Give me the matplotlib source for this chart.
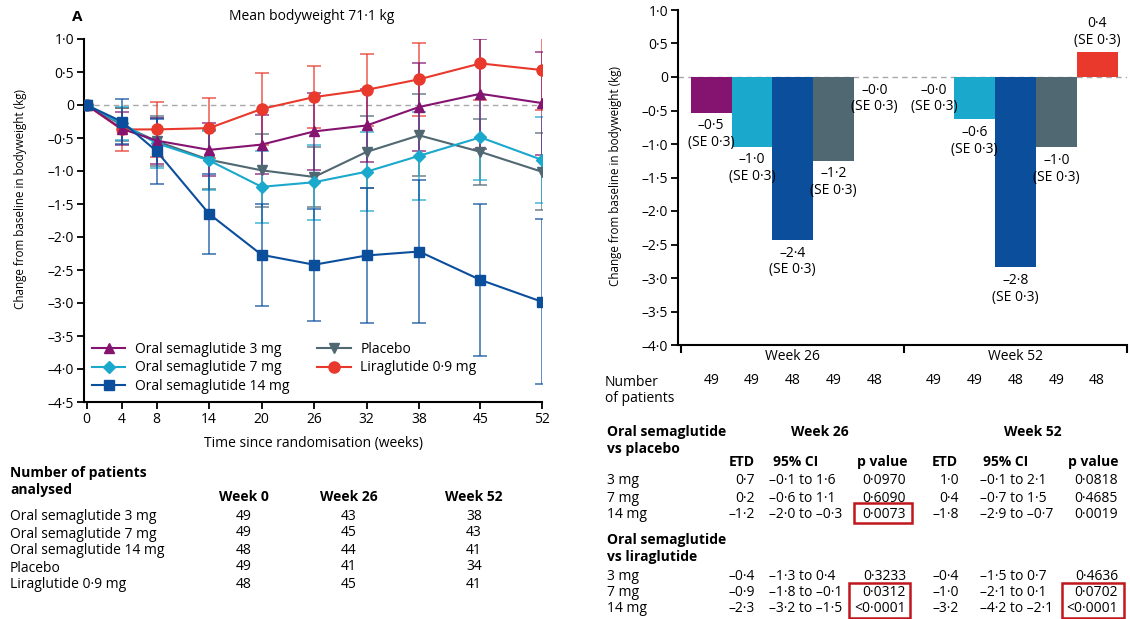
import matplotlib
matplotlib.use("Agg")
import matplotlib.pyplot as plt
from matplotlib.patches import Rectangle
from matplotlib.lines import Line2D

plt.rcParams['font.family'] = ['Open Sans', 'DejaVu Sans']

# ---------------- data ----------------
weeks = [0, 4, 8, 14, 20, 26, 32, 38, 45, 52]
week_labels = ["0", "4", "8", "14", "20", "26", "32", "38", "45", "52"]

series_names = ["Oral semaglutide 3 mg", "Oral semaglutide 7 mg",
                "Oral semaglutide 14 mg", "Placebo", "Liraglutide 0·9 mg"]

sema3 = [0, -0.36, -0.54, -0.68, -0.60, -0.40, -0.31, -0.03, 0.17, 0.03]
sema3_ci = [0, 0.25, 0.35, 0.40, 0.45, 0.58, 0.55, 0.67, 0.83, 0.78]
sema7 = [0, -0.28, -0.58, -0.84, -1.24, -1.17, -1.01, -0.77, -0.49, -0.83]
sema7_ci = [0, 0.25, 0.38, 0.45, 0.55, 0.57, 0.60, 0.67, 0.64, 0.65]
sema14 = [0, -0.25, -0.70, -1.65, -2.27, -2.42, -2.28, -2.22, -2.65, -2.98]
sema14_ci = [0, 0.34, 0.49, 0.60, 0.77, 0.85, 1.02, 1.08, 1.15, 1.25]
placebo = [0, -0.30, -0.55, -0.83, -0.99, -1.09, -0.71, -0.46, -0.71, -1.01]
placebo_ci = [0, 0.25, 0.38, 0.45, 0.55, 0.45, 0.55, 0.62, 0.50, 0.58]
lira = [0, -0.37, -0.37, -0.35, -0.06, 0.12, 0.23, 0.39, 0.63, 0.53]
lira_ci = [0, 0.33, 0.42, 0.46, 0.54, 0.47, 0.55, 0.55, 0.56, 0.60]

left_yticks = [1.0, 0.5, 0, -0.5, -1.0, -1.5, -2.0, -2.5, -3.0, -3.5, -4.0, -4.5]
left_yticklabels = ["1·0", "0·5", "0", "–0·5", "–1·0", "–1·5", "–2·0", "–2·5",
                    "–3·0", "–3·5", "–4·0", "–4·5"]

table_cols = ["Week 0", "Week 26", "Week 52"]
n_week0 = [49, 49, 48, 49, 48]
n_week26 = [43, 45, 44, 41, 45]
n_week52 = [38, 43, 41, 34, 41]

bar_groups = ["Week 26", "Week 52"]
bar_week26 = [-0.53, -1.04, -2.43, -1.25, 0.0]
bar_week52 = [0.0, -0.63, -2.84, -1.05, 0.38]
bar_lab26 = ["–0·5", "–1·0", "–2·4", "–1·2", "–0·0"]
bar_lab52 = ["–0·0", "–0·6", "–2·8", "–1·0", "0·4"]
bar_se = "(SE 0·3)"
bar_n26 = [49, 49, 48, 49, 48]
bar_n52 = [49, 49, 48, 49, 48]

right_yticks = [1.0, 0.5, 0, -0.5, -1.0, -1.5, -2.0, -2.5, -3.0, -3.5, -4.0]
right_yticklabels = ["1·0", "0·5", "0", "–0·5", "–1·0", "–1·5", "–2·0", "–2·5",
                     "–3·0", "–3·5", "–4·0"]

dose_rows = ["3 mg", "7 mg", "14 mg"]
pl_etd26 = ["0·7", "0·2", "–1·2"]
pl_ci26 = ["–0·1 to 1·6", "–0·6 to 1·1", "–2·0 to –0·3"]
pl_p26 = ["0·0970", "0·6090", "0·0073"]
pl_etd52 = ["1·0", "0·4", "–1·8"]
pl_ci52 = ["–0·1 to 2·1", "–0·7 to 1·5", "–2·9 to –0·7"]
pl_p52 = ["0·0818", "0·4685", "0·0019"]
li_etd26 = ["–0·4", "–0·9", "–2·3"]
li_ci26 = ["–1·3 to 0·4", "–1·8 to –0·1", "–3·2 to –1·5"]
li_p26 = ["0·3233", "0·0312", "<0·0001"]
li_etd52 = ["–0·4", "–1·0", "–3·2"]
li_ci52 = ["–1·5 to 0·7", "–2·1 to 0·1", "–4·2 to –2·1"]
li_p52 = ["0·4636", "0·0702", "<0·0001"]

# ---------------- style ----------------
colors = ["#851470", "#1aa8cc", "#0b4f9c", "#4f6872", "#e8392c"]
markers = ["^", "D", "s", "v", "o"]
msizes = [7.5, 6.5, 7.5, 7.5, 8]

W, H = 1130, 619
fig = plt.figure(figsize=(W / 100, H / 100), dpi=100)


def fx(x):
    return x / W


def fy(y):
    return 1 - y / H


def ftext(x, y, s, **kw):
    kw.setdefault("va", "center")
    return fig.text(fx(x), fy(y), s, **kw)


FS = 10
FY = 8.4

# ---------------- left line chart ----------------
axL = fig.add_axes([fx(84), fy(402), (541.7 - 84) / W, (402 - 39) / H])
axL.set_xlim(-0.3, 52)
axL.set_ylim(-4.5, 1.0)
axL.axhline(0, color="#a8a8a8", lw=1, ls=(0, (4, 3)), zorder=1)

vals = [sema3, sema7, sema14, placebo, lira]
cis = [sema3_ci, sema7_ci, sema14_ci, placebo_ci, lira_ci]
order = [4, 3, 1, 0, 2]
for i in order:
    axL.errorbar(weeks, vals[i], yerr=cis[i], fmt="none", ecolor=colors[i],
                 elinewidth=1.3, capsize=5, capthick=1.3, alpha=0.7, zorder=2)
for i in order:
    axL.plot(weeks, vals[i], color=colors[i], lw=1.5, marker=markers[i],
             ms=msizes[i], zorder=3)

axL.set_xticks(weeks)
axL.set_xticklabels(week_labels, fontsize=FS)
axL.set_yticks(left_yticks)
axL.set_yticklabels(left_yticklabels, fontsize=FS)
for s in ["top", "right"]:
    axL.spines[s].set_visible(False)
for s in ["left", "bottom"]:
    axL.spines[s].set_linewidth(1.5)
axL.tick_params(axis="both", direction="out", length=5, width=1.3, pad=2)

handles = [Line2D([], [], color=colors[i], marker=markers[i], ms=msizes[i], lw=1.5)
           for i in range(5)]
axL.legend(handles, series_names, ncol=2, frameon=False, fontsize=FS,
           loc="upper left", bbox_to_anchor=(fx(92), fy(342)),
           bbox_transform=fig.transFigure, handlelength=2.4, handletextpad=0.7,
           columnspacing=2.0, labelspacing=0.25, borderpad=0, borderaxespad=0)

ftext(77, 17, "A", fontsize=11, fontweight="bold", ha="center")
ftext(312, 17, "Mean bodyweight 71·1 kg", fontsize=FS, ha="center")
ftext(21, 199, "Change from baseline in bodyweight (kg)", fontsize=FY,
      rotation=90, ha="center")
ftext(314, 444, "Time since randomisation (weeks)", fontsize=FS, ha="center")

# left table
ftext(10, 473, "Number of patients", fontsize=FS, fontweight="bold", ha="left")
ftext(10, 490, "analysed", fontsize=FS, fontweight="bold", ha="left")
col_x = [244, 349, 474]
for cx, cname in zip(col_x, table_cols):
    ftext(cx, 497, cname, fontsize=FS, fontweight="bold", ha="center")
row_y = [517, 534, 551, 568, 585]
for j, name in enumerate(series_names):
    ftext(10, row_y[j], name, fontsize=FS, ha="left")
    for cx, col in zip(col_x, [n_week0, n_week26, n_week52]):
        ftext(cx, row_y[j] - 1, str(col[j]), fontsize=FS, ha="center")

# ---------------- right bar chart ----------------
axR = fig.add_axes([fx(678), fy(345), (1127 - 678) / W, (345 - 10) / H])
axR.set_xlim(-0.515, 1.485)
axR.set_ylim(-4.0, 1.0)
axR.axhline(0, color="#a8a8a8", lw=1, ls=(0, (4, 3)), zorder=1)
bw = 0.183
for g, (gvals, glabs) in enumerate([(bar_week26, bar_lab26), (bar_week52, bar_lab52)]):
    for i in range(5):
        xc = g + (i - 2) * bw
        v = gvals[i]
        if v != 0:
            axR.bar(xc, v, width=bw, color=colors[i], zorder=2)
        if v > 0:
            axR.annotate(glabs[i], (xc, v), xytext=(0, 20), textcoords="offset points",
                         ha="center", va="center", fontsize=FS)
            axR.annotate(bar_se, (xc, v), xytext=(0, 8), textcoords="offset points",
                         ha="center", va="center", fontsize=FS)
        else:
            axR.annotate(glabs[i], (xc, v), xytext=(0, -9.5), textcoords="offset points",
                         ha="center", va="center", fontsize=FS)
            axR.annotate(bar_se, (xc, v), xytext=(0, -21.5), textcoords="offset points",
                         ha="center", va="center", fontsize=FS)

axR.set_yticks(right_yticks)
axR.set_yticklabels(right_yticklabels, fontsize=FS)
axR.set_xticks([-0.5, 0.5, 1.5])
axR.set_xticklabels([])
axR.set_xticks([0, 1], minor=True)
axR.set_xticklabels(bar_groups, minor=True, fontsize=FS)
axR.tick_params(axis="x", which="minor", length=0, pad=3)
axR.tick_params(axis="x", which="major", direction="out", length=6, width=1.5)
axR.tick_params(axis="y", direction="out", length=5, width=1.3, pad=2)
for s in ["top", "right"]:
    axR.spines[s].set_visible(False)
for s in ["left", "bottom"]:
    axR.spines[s].set_linewidth(1.5)

ftext(616, 176, "Change from baseline in bodyweight (kg)", fontsize=FY,
      rotation=90, ha="center")

# number of patients row (under bars)
ftext(605, 382, "Number", fontsize=FS, ha="left")
ftext(605, 399, "of patients", fontsize=FS, ha="left")
for g, ns in enumerate([bar_n26, bar_n52]):
    for i in range(5):
        xc = g + (i - 2) * bw
        xp = axR.transData.transform((xc, 0))[0]
        fig.text(xp / W, fy(380), str(ns[i]), fontsize=FS, ha="center", va="center")

# ---------------- right table ----------------
FT = 10
ftext(607, 432, "Oral semaglutide", fontsize=FT, fontweight="bold", ha="left")
ftext(607, 449, "vs placebo", fontsize=FT, fontweight="bold", ha="left")
ftext(820, 432, "Week 26", fontsize=FT, fontweight="bold", ha="center")
ftext(1033, 432, "Week 52", fontsize=FT, fontweight="bold", ha="center")
for xh, h in [(742, "ETD"), (796, "95% CI"), (882, "p value"),
              (945, "ETD"), (1006, "95% CI"), (1093, "p value")]:
    ftext(xh, 462, h, fontsize=FT, fontweight="bold", ha="center")


def block(ys, etd26, ci26, p26, etd52, ci52, p52):
    for k in range(3):
        y = ys[k]
        ftext(607, y, dose_rows[k], fontsize=FT, ha="left")
        ftext(755, y, etd26[k], fontsize=FT, ha="right")
        ftext(769, y, ci26[k], fontsize=FT, ha="left")
        ftext(906, y, p26[k], fontsize=FT, ha="right")
        ftext(959, y, etd52[k], fontsize=FT, ha="right")
        ftext(980, y, ci52[k], fontsize=FT, ha="left")
        ftext(1118, y, p52[k], fontsize=FT, ha="right")


block([481, 498, 514], pl_etd26, pl_ci26, pl_p26, pl_etd52, pl_ci52, pl_p52)
ftext(607, 540, "Oral semaglutide", fontsize=FT, fontweight="bold", ha="left")
ftext(607, 557, "vs liraglutide", fontsize=FT, fontweight="bold", ha="left")
block([576, 593, 609], li_etd26, li_ci26, li_p26, li_etd52, li_ci52, li_p52)

for (x0, y0, x1, y1) in [(854, 503, 912, 523), (849, 583, 910, 617.5),
                         (1062, 583, 1123.5, 617.5)]:
    fig.patches.append(Rectangle((fx(x0), fy(y1)), (x1 - x0) / W, (y1 - y0) / H,
                                 transform=fig.transFigure, fill=False,
                                 edgecolor="#c0161c", lw=1.8))

fig.savefig("out.png", dpi=100)
